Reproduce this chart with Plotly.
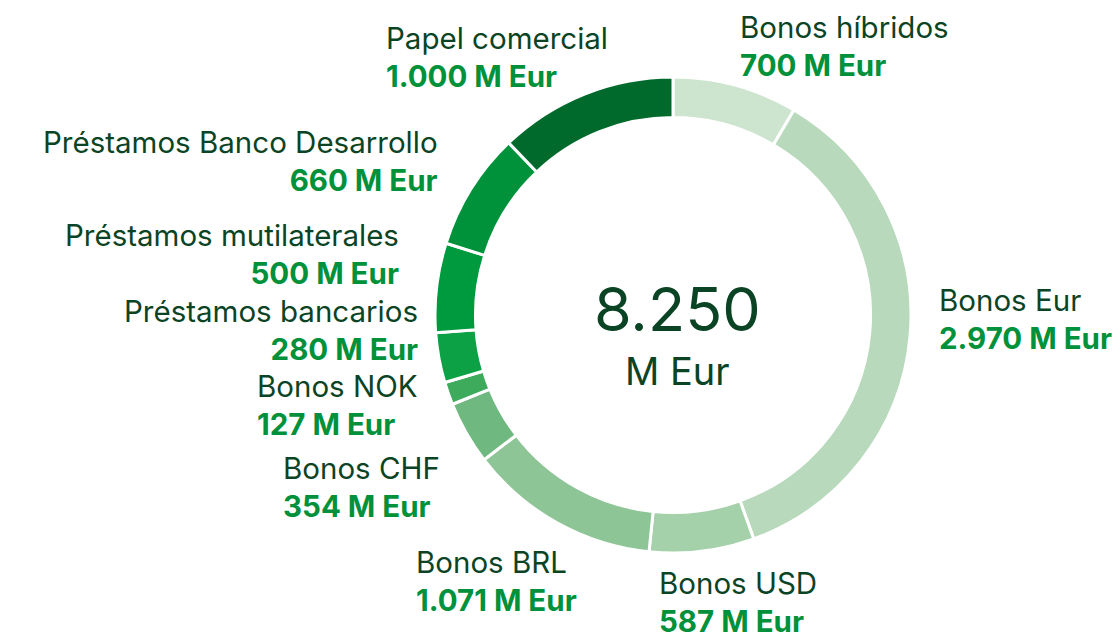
import plotly.graph_objects as go

categories = ["Bonos híbridos", "Bonos Eur", "Bonos USD", "Bonos BRL", "Bonos CHF",
              "Bonos NOK", "Préstamos bancarios", "Préstamos mutilaterales",
              "Préstamos Banco Desarrollo", "Papel comercial"]
values = [700, 2970, 587, 1071, 354, 127, 280, 500, 660, 1000]
colors = ["#cde4cf", "#b8d9bc", "#a5d1aa", "#8ec597", "#6fb87f",
          "#3eaa5c", "#0da145", "#009a3e", "#00923a", "#006a2c"]
total_label = "8.250"
unit = "M Eur"

# label placement (screen px), anchor
label_pos = {
    "Bonos híbridos": (738, 46, "left"),
    "Bonos Eur": (937, 319, "left"),
    "Bonos USD": (657, 602, "left"),
    "Bonos BRL": (414, 581, "left"),
    "Bonos CHF": (281, 487, "left"),
    "Bonos NOK": (255, 405, "left"),
    "Préstamos bancarios": (420, 330, "right"),
    "Préstamos mutilaterales": (401, 254, "right"),
    "Préstamos Banco Desarrollo": (440, 161, "right"),
    "Papel comercial": (384, 57, "left"),
}

W, H = 1120, 634
OFF = 8  # page body margin
FONT = "Inter"
DARK = "#0b4424"
VAL = "#00913a"

def px(x):
    return (x - OFF) / W

def py(y):
    return 1 - (y - OFF) / H

fig = go.Figure(go.Pie(
    labels=categories, values=values, sort=False, direction="clockwise",
    rotation=0, hole=0.83, textinfo="none",
    marker=dict(colors=colors, line=dict(color="white", width=3)),
    domain=dict(x=[px(435), px(911)], y=[py(553), py(77)]),
    showlegend=False,
))

def fmt(v):
    return f"{v:,}".replace(",", ".")

anns = []
for c, v in zip(categories, values):
    x, y, a = label_pos[c]
    anns.append(dict(
        x=px(x), y=py(y), xref="paper", yref="paper", xanchor=a, yanchor="middle",
        align=a, showarrow=False,
        text=f"{c}<br><b><span style='color:{VAL}'>{fmt(v)} {unit}</span></b>",
        font=dict(family=FONT, size=29.5, color=DARK),
    ))
anns.append(dict(x=px(677), y=py(309), xref="paper", yref="paper", showarrow=False,
                 text=total_label, font=dict(family=FONT, size=61, color=DARK)))
anns.append(dict(x=px(677), y=py(371), xref="paper", yref="paper", showarrow=False,
                 text=unit, font=dict(family=FONT, size=38, color=DARK)))

fig.update_layout(width=W, height=H, margin=dict(l=0, r=0, t=0, b=0),
                  paper_bgcolor="white", plot_bgcolor="white", annotations=anns)
fig.write_html("out.html")
